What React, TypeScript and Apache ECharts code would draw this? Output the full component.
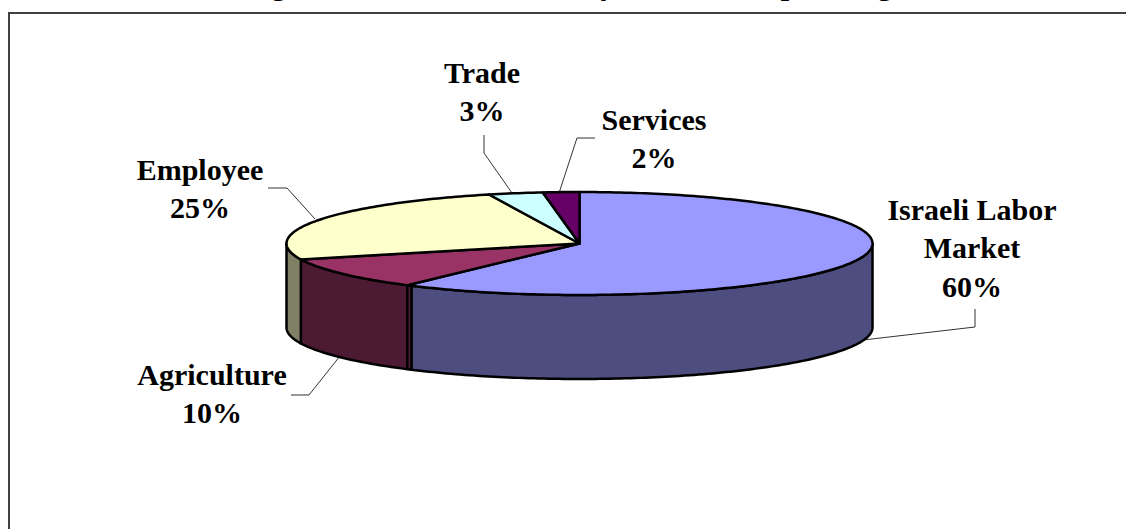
import React, { useEffect, useRef } from "react";
import * as echarts from "echarts";

const categories = ["Israeli Labor Market", "Agriculture", "Employee", "Trade", "Services"];
const shares = [60, 10, 25, 3, 2];
const topColors = ["#9999FF", "#993366", "#FFFFCC", "#CCFFFF", "#660066"];
const sideColors = ["#4D4D80", "#4D1A33", "#808066", "#668080", "#330033"];

// Only the descenders of the title survive in the cropped reference, so only those glyphs are drawn.
const titleGlyphs = ["g", "y", "p", "g"];
const titleGlyphX = [279, 608, 789, 885];

const labelLines = [
  ["Israeli Labor", "Market", "60%"],
  ["Agriculture", "10%"],
  ["Employee", "25%"],
  ["Trade", "3%"],
  ["Services", "2%"],
];
const labelCenterX = [972, 212, 200, 482, 654];
const labelFirstBaseline = [220, 385, 180, 83, 130];
const leaderLines = [
  [[975, 309], [975, 327], [863, 340]],
  [[291, 395], [309, 395], [340, 356]],
  [[268, 188], [287, 188], [315, 219]],
  [[484, 135], [484, 153], [512, 193]],
  [[595, 138], [577, 138], [559, 193]],
];

const CX = 579.5;
const CY = 243.5;
const RX = 293;
const RY = 51.5;
const DEPTH = 84;
const WALL_DEG = 1;
const BASELINE_OFFSET = 26;
const FONT = "'Liberation Serif', 'Times New Roman', serif";

const total = shares.reduce((a, b) => a + b, 0);
const startAngle = (i: number) =>
  (shares.slice(0, i).reduce((a, b) => a + b, 0) / total) * 360;

const pt = (deg: number, dy = 0): number[] => {
  const r = (deg * Math.PI) / 180;
  return [CX + RX * Math.sin(r), CY - RY * Math.cos(r) + dy];
};

const arc = (a0: number, a1: number, dy = 0): number[][] => {
  const out: number[][] = [];
  const n = Math.max(2, Math.ceil(Math.abs(a1 - a0)));
  for (let k = 0; k <= n; k++) out.push(pt(a0 + ((a1 - a0) * k) / n, dy));
  return out;
};

const edge = { stroke: "#000", lineWidth: 2.5, lineJoin: "round" };

const renderTop = (params: any, api: any) => {
  const i = params.dataIndex;
  const a0 = startAngle(i);
  const a1 = a0 + (api.value(0) / total) * 360;
  return {
    type: "polygon",
    shape: { points: [[CX, CY], ...arc(a0, a1)] },
    style: { fill: topColors[i], ...edge },
  };
};

const renderSide = (params: any, api: any) => {
  const i = params.dataIndex;
  const start = startAngle(i);
  const a0 = Math.max(start, 90);
  const a1 = Math.min(start + (api.value(0) / total) * 360, 270);
  if (a1 <= a0) return { type: "group", children: [] };
  const from = i === 1 ? a0 - WALL_DEG : a0;
  const to = i === 0 ? a1 - WALL_DEG : a1;
  const children: any[] = [
    {
      type: "polygon",
      shape: { points: [...arc(from, to), ...arc(to, from, DEPTH)] },
      style: { fill: sideColors[i], ...edge },
    },
  ];
  if (i === 1) {
    const p = pt(a0);
    const q = pt(a0, DEPTH);
    children.push({
      type: "line",
      shape: { x1: p[0], y1: p[1], x2: q[0], y2: q[1] },
      style: { stroke: "#000", lineWidth: 2.5 },
    });
  }
  return { type: "group", children };
};

export default function App() {
  const ref = useRef<HTMLDivElement>(null);
  useEffect(() => {
    const chart = echarts.init(ref.current!, undefined, { renderer: "svg" });
    const text = (t: string, x: number, baseline: number) => ({
      type: "text",
      x,
      y: baseline - BASELINE_OFFSET,
      silent: true,
      style: {
        text: t,
        fill: "#000",
        font: `bold 30px ${FONT}`,
        textAlign: "center",
        textVerticalAlign: "top",
      },
    });
    const labels: any[] = [];
    labelLines.forEach((lines, i) =>
      lines.forEach((t, j) =>
        labels.push(text(t, labelCenterX[i], labelFirstBaseline[i] + j * 38.5))
      )
    );
    const data = categories.map((name, i) => ({ name, value: [shares[i]] }));
    chart.setOption({
      animation: false,
      backgroundColor: "#fff",
      graphic: [
        {
          type: "polyline",
          silent: true,
          shape: { points: [[9, 529], [9, 13], [1126, 13]] },
          style: { stroke: "#404040", lineWidth: 2, fill: "none" },
        },
        ...titleGlyphs.map((g, i) => text(g, titleGlyphX[i], -5)),
        ...leaderLines.map((points) => ({
          type: "polyline",
          silent: true,
          shape: { points },
          style: { stroke: "#333", lineWidth: 1, fill: "none" },
        })),
        ...labels,
      ],
      series: [
        { type: "custom", coordinateSystem: "none", silent: true, z: 2, renderItem: renderSide, data },
        { type: "custom", coordinateSystem: "none", silent: true, z: 3, renderItem: renderTop, data },
      ],
    });
    return () => chart.dispose();
  }, []);
  return (
    <div
      ref={ref}
      style={{ position: "absolute", left: 0, top: 0, width: 1126, height: 529 }}
    />
  );
}
